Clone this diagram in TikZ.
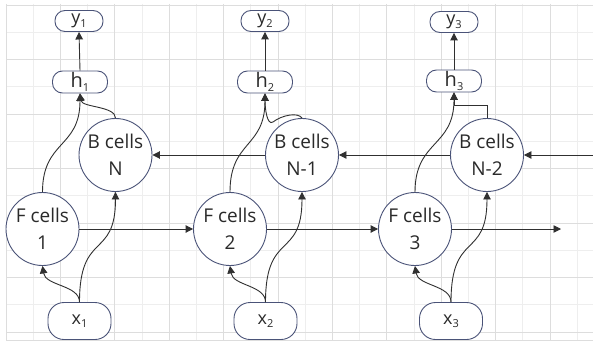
\documentclass[tikz,border=0pt]{standalone}
\usepackage{fontspec}
\setmainfont{Open Sans}
\usetikzlibrary{arrows.meta}
\definecolor{gridA}{HTML}{EEEEEE}
\definecolor{gridB}{HTML}{DDDDDD}
\definecolor{nodeborder}{HTML}{4A5378}
\definecolor{edgecol}{HTML}{303030}
\definecolor{txt}{HTML}{2A2A2A}
\newcommand\lowsub[1]{\raisebox{-3.5pt}{\fontsize{11}{11}\selectfont #1}}
\begin{document}
\begin{tikzpicture}[x=1pt,y=-1pt,
  cell/.style={circle,draw=nodeborder,line width=0.9pt,fill=white,minimum size=73pt,inner sep=0pt,align=center,font=\fontsize{19}{27}\selectfont,text=txt},
  hbox/.style={rectangle,rounded corners=10pt,draw=nodeborder,line width=0.9pt,fill=white,minimum width=55pt,minimum height=22pt,inner sep=0pt,font=\fontsize{20}{20}\selectfont,text=txt},
  ybox/.style={hbox,minimum width=48pt,minimum height=21pt,font=\fontsize{18}{18}\selectfont},
  xbox/.style={rectangle,rounded corners=16pt,draw=nodeborder,line width=0.9pt,fill=white,minimum width=63pt,minimum height=37pt,inner sep=0pt,font=\fontsize{18}{18}\selectfont,text=txt},
  conn/.style={draw=edgecol,line width=0.9pt,-{Triangle[length=7.5pt,width=7.5pt]}},
  plain/.style={draw=edgecol,line width=0.9pt}
]
\useasboundingbox (0,0) rectangle (593,345);
\fill[white] (0,0) rectangle (593,345);
% grid
\foreach \k in {1,3,...,21} {\draw[gridA,line width=0.8pt] ({6+27.2*\k},4) -- ({6+27.2*\k},340);}
\foreach \k in {1,3,...,11} {\draw[gridA,line width=0.8pt] (6,{5+27.25*\k}) -- (593,{5+27.25*\k});}
\foreach \k in {0,2,...,20} {\draw[gridB,line width=0.8pt] ({6+27.2*\k},4) -- ({6+27.2*\k},340);}
\foreach \k in {0,2,...,12} {\draw[gridB,line width=0.8pt] (6,{5+27.25*\k}) -- (593,{5+27.25*\k});}
\draw[gridB,line width=0.8pt] (6,340) -- (593,340);

% nodes
\node[ybox] (y1) at (79,21) {y\lowsub{1}};
\node[ybox] (y2) at (265,21) {y\lowsub{2}};
\node[ybox] (y3) at (454,22) {y\lowsub{3}};
\node[hbox] (h1) at (80,82) {h\lowsub{1}};
\node[hbox] (h2) at (265,82) {h\lowsub{2}};
\node[hbox] (h3) at (454,81) {h\lowsub{3}};
\node[cell] (B1) at (115.5,155) {B cells\\N};
\node[cell] (B2) at (302,155) {B cells\\N-1};
\node[cell] (B3) at (487,155) {B cells\\N-2};
\node[cell] (F1) at (42.5,229) {F cells\\1};
\node[cell] (F2) at (230,229) {F cells\\2};
\node[cell] (F3) at (415,229) {F cells\\3};
\node[xbox] (x1) at (79.5,321) {x\lowsub{1}};
\node[xbox] (x2) at (265.5,321) {x\lowsub{2}};
\node[xbox] (x3) at (451,321) {x\lowsub{3}};
\coordinate (rin) at (593,155);
\coordinate (fout) at (561,229);

% h -> y
\draw[conn] (h1.north) -- (y1.south);
\draw[conn] (h2.north) -- (y2.south);
\draw[conn] (h3.north) -- (y3.south);

% F -> h
\draw[conn] (F1.north) .. controls ++(0,-52) and ++(0,55) .. (h1.south);
\draw[conn] (F2.north) .. controls ++(0,-52) and ++(0,55) .. (h2.south);
\draw[conn] (F3.north) .. controls ++(0,-52) and ++(0,55) .. (h3.south);

% B -> h
\draw[conn] (B1.north) .. controls ++(0,-12) and ++(2,14) .. (h1.south);
\draw[conn] (B2.north) .. controls (298,112) and (282,115) .. (273,122) .. controls (267,126) and (265,108) .. (h2.south);
\draw[conn] (B3.north) -- ++(0,-13) -| (h3.south);

% backward chain
\draw[conn] (rin) -- (B3.east);
\draw[conn] (B3.west) -- (B2.east);
\draw[conn] (B2.west) -- (B1.east);

% forward chain
\draw[conn] (F1.east) -- (F2.west);
\draw[conn] (F2.east) -- (F3.west);
\draw[conn] (F3.east) -- (fout);

% x -> F, x -> B
\draw[conn] (x1.north) .. controls ++(0,-17) and ++(3,20) .. (F1.south);
\draw[conn] (x2.north) .. controls ++(0,-17) and ++(3,20) .. (F2.south);
\draw[conn] (x3.north) .. controls ++(0,-17) and ++(3,20) .. (F3.south);
\draw[conn] (x1.north) .. controls ++(0,-72) and ++(0,68) .. (B1.south);
\draw[conn] (x2.north) .. controls ++(0,-72) and ++(0,68) .. (B2.south);
\draw[conn] (x3.north) .. controls ++(0,-72) and ++(0,68) .. (B3.south);
\end{tikzpicture}
\end{document}
